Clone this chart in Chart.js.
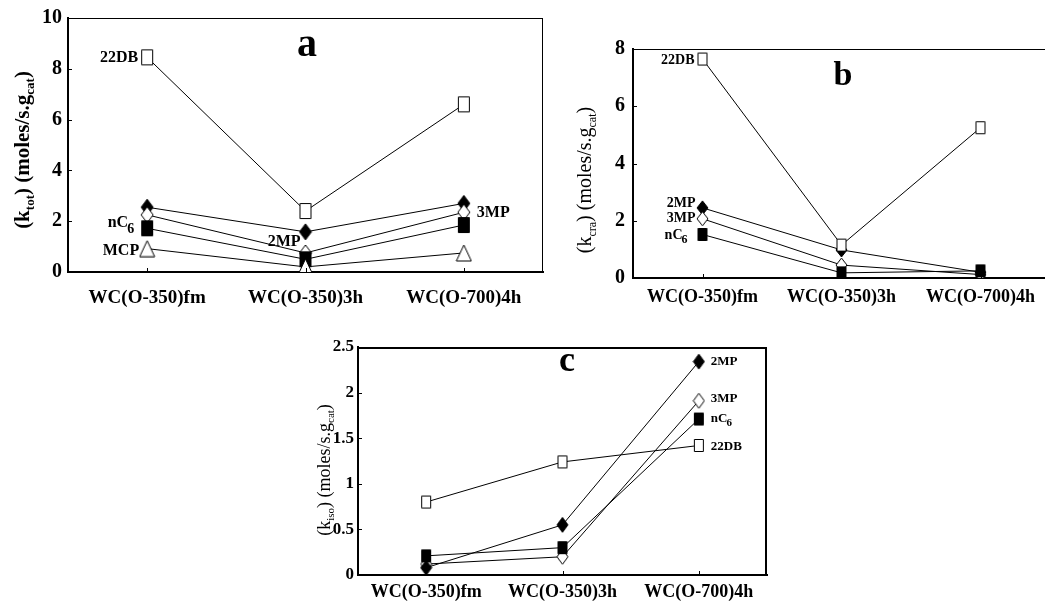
<!DOCTYPE html>
<html><head><meta charset="utf-8">
<script src="https://cdn.jsdelivr.net/npm/chart.js@4"></script>
<style>
html,body{margin:0;padding:0;background:#fff;overflow:hidden;width:1045px;height:602px;position:relative}
canvas{position:absolute}
</style></head><body>
<canvas id="ca" width="560" height="320" style="left:0;top:0"></canvas>
<canvas id="cb" width="560" height="320" style="left:560px;top:0"></canvas>
<canvas id="cc" width="500" height="272" style="left:300px;top:330px"></canvas>
<script>
// ---------- data ----------
const categories = ['WC(O-350)fm', 'WC(O-350)3h', 'WC(O-700)4h'];
const seriesNames = ['22DB', '2MP', '3MP', 'nC6', 'MCP'];

// panel a : k_tot
const a22DB = [8.45, 2.4, 6.6];
const a2MP  = [2.55, 1.58, 2.7];
const a3MP  = [2.25, 0.75, 2.35];
const anC6  = [1.72, 0.5, 1.85];
const aMCP  = [0.92, 0.2, 0.75];
const aTicks = [0, 10, 2];

// panel b : k_cra
const b22DB = [7.65, 1.15, 5.25];
const b2MP  = [2.45, 0.98, 0.2];
const b3MP  = [2.07, 0.45, 0.12];
const bnC6  = [1.52, 0.18, 0.25];
const bTicks = [0, 8, 2];

// panel c : k_iso
const c22DB = [0.8, 1.24, 1.42];
const c2MP  = [0.08, 0.55, 2.34];
const c3MP  = [0.12, 0.2, 1.91];
const cnC6  = [0.21, 0.3, 1.71];
const cTicks = [0, 2.5, 0.5];

// ---------- styling helpers ----------
const F = '"Liberation Serif", "Times New Roman", serif';

function marker(shape, filled, w, h) {
  const c = document.createElement('canvas');
  c.width = w + 2; c.height = h + 2;
  const x = c.getContext('2d');
  x.lineWidth = 1; x.strokeStyle = '#000'; x.fillStyle = filled ? '#000' : '#fff';
  const cx = (w + 2) / 2, cy = (h + 2) / 2;
  x.beginPath();
  if (shape === 'rect') { x.rect(1.5, 1.5, w - 1, h - 1); }
  else if (shape === 'diamond') { x.moveTo(cx, 1); x.lineTo(w + 1, cy); x.lineTo(cx, h + 1); x.lineTo(1, cy); x.closePath(); }
  else { x.moveTo(cx, 1); x.lineTo(w + 1, h + 1); x.lineTo(1, h + 1); x.closePath(); }
  x.fill(); x.stroke();
  return c;
}

function ds(data, img, order) {
  return { data, borderColor: '#000', borderWidth: 1, tension: 0, fill: false,
    pointStyle: img, pointRadius: 6, order };
}

const decor = {
  id: 'decor',
  afterDraw(chart, args, o) {
    const ctx = chart.ctx, ca = chart.chartArea, xs = chart.scales.x, ys = chart.scales.y;
    ctx.save();
    ctx.strokeStyle = '#000'; ctx.fillStyle = '#000';
    if (o.top) { ctx.lineWidth = o.top; ctx.beginPath(); ctx.moveTo(ca.left - 1, ca.top + o.top / 2); ctx.lineTo(ca.right, ca.top + o.top / 2); ctx.stroke(); }
    if (o.right) { ctx.lineWidth = o.right; ctx.beginPath(); ctx.moveTo(ca.right - o.right / 2, ca.top); ctx.lineTo(ca.right - o.right / 2, ca.bottom); ctx.stroke(); }
    // inward tick marks
    ctx.lineWidth = 1;
    ys.ticks.forEach(t => {
      const y = Math.round(ys.getPixelForValue(t.value)) + 0.5;
      ctx.beginPath(); ctx.moveTo(ca.left, y); ctx.lineTo(ca.left + o.tick, y); ctx.stroke();
    });
    categories.forEach((c, i) => {
      const x = Math.round(xs.getPixelForValue(i)) + 0.5;
      ctx.beginPath(); ctx.moveTo(x, ca.bottom); ctx.lineTo(x, ca.bottom - o.tick); ctx.stroke();
    });
    // y title with subscripts
    const t = o.title;
    ctx.translate(t.x, t.y); ctx.rotate(-Math.PI / 2);
    const segs = [['(k', 0], [t.sub, 1], [') (moles/s.g', 0], ['cat', 1], [')', 0]];
    const fMain = (t.bold ? 'bold ' : '') + t.size + 'px ' + F;
    const fSub = (t.bold ? 'bold ' : '') + Math.round(t.size * 0.62) + 'px ' + F;
    let total = 0;
    segs.forEach(s => { ctx.font = s[1] ? fSub : fMain; total += ctx.measureText(s[0]).width; });
    let cx = -total / 2;
    ctx.textBaseline = 'alphabetic'; ctx.textAlign = 'left';
    segs.forEach(s => {
      ctx.font = s[1] ? fSub : fMain;
      ctx.fillText(s[0], cx, t.size * 0.33 + (s[1] ? t.size * 0.25 : 0));
      cx += ctx.measureText(s[0]).width;
    });
    ctx.setTransform(1, 0, 0, 1, 0, 0);
    // panel letter
    ctx.font = 'bold ' + o.letter.size + 'px ' + F;
    ctx.textAlign = 'center'; ctx.textBaseline = 'middle';
    ctx.fillText(o.letter.text, o.letter.x, o.letter.y);
    // series labels
    o.labels.forEach(l => {
      const v = chart.data.datasets[l.ds].data[l.i];
      const px = xs.getPixelForValue(l.i) + l.dx, py = ys.getPixelForValue(v) + l.dy;
      const name = seriesNames[l.name];
      const main = name === 'nC6' ? 'nC' : name, sub = name === 'nC6' ? '6' : '';
      const fm = 'bold ' + o.lsize + 'px ' + F, fs = 'bold ' + Math.round(o.lsize * 0.85) + 'px ' + F;
      ctx.font = fm; const w1 = ctx.measureText(main).width;
      ctx.font = fs; const w2 = sub ? ctx.measureText(sub).width : 0;
      let sx = l.align === 'right' ? px - w1 - w2 : px;
      ctx.textAlign = 'left'; ctx.textBaseline = 'middle';
      ctx.font = fm; ctx.fillText(main, sx, py);
      if (sub) { ctx.font = fs; ctx.fillText(sub, sx + w1 - 1, py + o.lsize * 0.35); }
    });
    ctx.restore();
  }
};

function opts(tk, layout, yw, xh, tickSize, xSize, xPad, yPad, deco) {
  return {
    responsive: false, animation: false, devicePixelRatio: 1,
    layout: { padding: layout },
    plugins: { legend: { display: false }, tooltip: { enabled: false }, decor: deco },
    scales: {
      x: { type: 'category', offset: true, grid: { display: false, drawTicks: false },
        border: { display: true, width: 2, color: '#000' },
        ticks: { color: '#000', font: { family: F, weight: 'bold', size: xSize }, padding: xPad, maxRotation: 0, autoSkip: false },
        afterFit: s => { s.height = xh; } },
      y: { min: tk[0], max: tk[1], grid: { display: false, drawTicks: false },
        border: { display: true, width: 2, color: '#000' },
        ticks: { stepSize: tk[2], color: '#000', font: { family: F, weight: 'bold', size: tickSize }, padding: yPad,
          callback: v => String(+v.toFixed(2)) },
        afterFit: s => { s.width = yw; } }
    }
  };
}

// ---------- panel a ----------
const mA = {
  sqO: marker('rect', false, 12, 16), diF: marker('diamond', true, 12, 16),
  diO: marker('diamond', false, 12, 16), sqF: marker('rect', true, 12, 16), tri: marker('tri', false, 15, 16)
};
new Chart(document.getElementById('ca'), {
  type: 'line',
  data: { labels: categories, datasets: [
    ds(a22DB, mA.sqO, 0), ds(a2MP, mA.diF, -1), ds(a3MP, mA.diO, -2), ds(anC6, mA.sqF, -3), ds(aMCP, mA.tri, -4)
  ] },
  options: opts(aTicks, { left: 0, top: 18, right: 17, bottom: 0 }, 68, 48, 20, 19, 15, 6, {
    top: 1, right: 1, tick: 4,
    title: { x: 22, y: 150, size: 21, bold: true, sub: 'tot' },
    letter: { text: 'a', x: 307, y: 46, size: 40 },
    lsize: 16,
    labels: [
      { ds: 0, i: 0, name: 0, dx: -9, dy: 0, align: 'right' },
      { ds: 3, i: 0, name: 3, dx: -12, dy: -5, align: 'right' },
      { ds: 4, i: 0, name: 4, dx: -8, dy: 2, align: 'right' },
      { ds: 1, i: 1, name: 1, dx: -5, dy: 10, align: 'right' },
      { ds: 2, i: 2, name: 2, dx: 13, dy: 1, align: 'left' }
    ]
  }),
  plugins: [decor]
});

// ---------- panel b ----------
const mB = {
  sqO: marker('rect', false, 10, 13), diF: marker('diamond', true, 11, 14),
  diO: marker('diamond', false, 11, 14), sqF: marker('rect', true, 10, 13)
};
new Chart(document.getElementById('cb'), {
  type: 'line',
  data: { labels: categories, datasets: [
    ds(b22DB, mB.sqO, -4), ds(b2MP, mB.diF, -1), ds(b3MP, mB.diO, -2), ds(bnC6, mB.sqF, -3)
  ] },
  options: opts(bTicks, { left: 0, top: 49, right: 70, bottom: 0 }, 73, 42, 20, 18, 9, 8, {
    top: 1, right: 0, tick: 4,
    title: { x: 24, y: 180, size: 20, bold: false, sub: 'cra' },
    letter: { text: 'b', x: 283, y: 76, size: 34 },
    lsize: 14,
    labels: [
      { ds: 0, i: 0, name: 0, dx: -8, dy: 1, align: 'right' },
      { ds: 1, i: 0, name: 1, dx: -7, dy: -4, align: 'right' },
      { ds: 2, i: 0, name: 2, dx: -7, dy: 0, align: 'right' },
      { ds: 3, i: 0, name: 3, dx: -14, dy: 1, align: 'right' }
    ]
  }),
  plugins: [decor]
});

// ---------- panel c ----------
const mC = {
  sqO: marker('rect', false, 10, 13), diF: marker('diamond', true, 11, 15),
  diO: marker('diamond', false, 11, 15), sqF: marker('rect', true, 10, 13)
};
new Chart(document.getElementById('cc'), {
  type: 'line',
  data: { labels: categories, datasets: [
    ds(c22DB, mC.sqO, -4), ds(c2MP, mC.diF, -2), ds(c3MP, mC.diO, 0), ds(cnC6, mC.sqF, -1)
  ] },
  options: opts(cTicks, { left: 0, top: 17, right: 33, bottom: 0 }, 58, 27, 17, 18, 7, 4, {
    top: 2, right: 2, tick: 4,
    title: { x: 24, y: 140, size: 18, bold: false, sub: 'iso' },
    letter: { text: 'c', x: 267, y: 32, size: 36 },
    lsize: 13,
    labels: [
      { ds: 1, i: 2, name: 1, dx: 12, dy: 0, align: 'left' },
      { ds: 2, i: 2, name: 2, dx: 12, dy: -2, align: 'left' },
      { ds: 3, i: 2, name: 3, dx: 12, dy: 0, align: 'left' },
      { ds: 0, i: 2, name: 0, dx: 12, dy: 1, align: 'left' }
    ]
  }),
  plugins: [decor]
});
</script>
</body></html>
